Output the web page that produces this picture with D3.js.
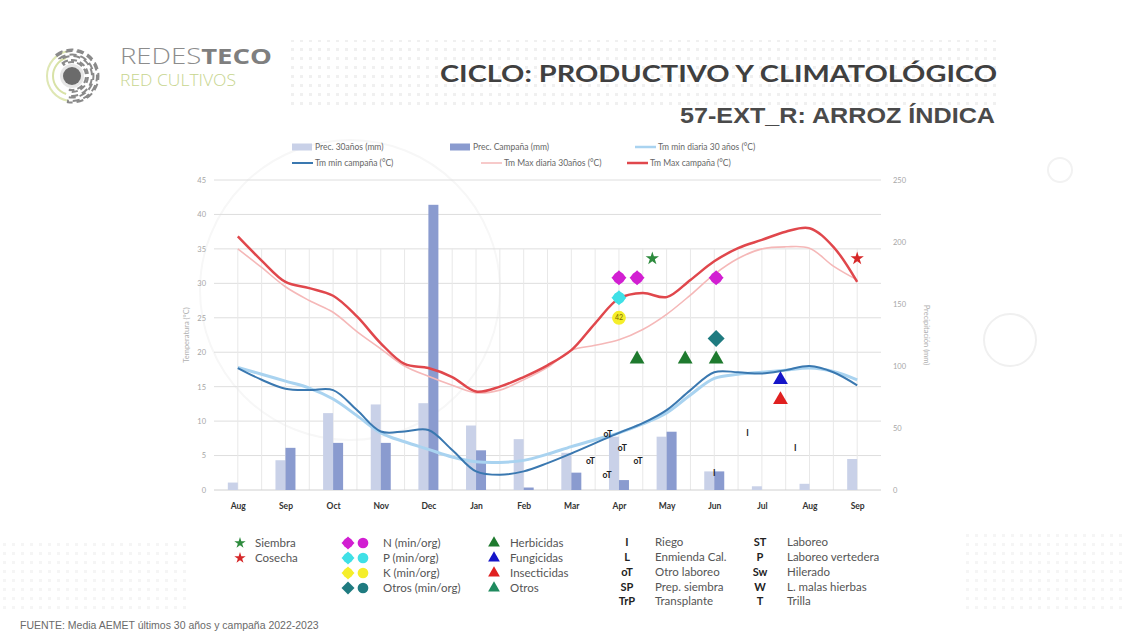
<!DOCTYPE html>
<html><head><meta charset="utf-8">
<script src="https://cdn.jsdelivr.net/npm/d3@7"></script>
<style>
html,body{margin:0;padding:0;background:#fff;}
svg{display:block;font-family:Lato,"Liberation Sans",sans-serif;}
</style></head>
<body>
<script>
// ---------- DATA ----------
const months = ["Aug","Sep","Oct","Nov","Dec","Jan","Feb","Mar","Apr","May","Jun","Jul","Aug","Sep"];
const prec30   = [6,24,62,69,70,52,41,30,43,43,15,3,5,25];
const precCamp = [0,34,38,38,230,32,2,14,8,47,15,0,0,0];
// positions (month index) of temperature readings (half-month)
const tPos = [0,0.5,1,1.5,2,2.5,3,3.5,4,4.5,5,5.5,6,6.5,7,7.5,8,8.5,9,9.5,10,10.5,11,11.5,12,12.5,13];
const tMin30   = [17.8,16.8,15.8,14.8,13.2,10.8,8.3,7.0,5.9,4.8,4.1,4.0,4.3,5.2,6.3,7.3,8.3,9.6,11.2,13.8,16.2,16.8,17.1,17.4,17.7,17.2,16.0];
const tMinCamp = [17.7,16.0,14.7,14.5,14.5,11.6,8.5,8.5,8.7,5.8,2.7,2.2,2.7,3.9,5.3,6.8,8.3,9.7,11.6,14.5,17.1,17.1,16.9,17.4,18.0,17.1,15.2];
const tMax30   = [35.0,32.3,29.5,27.5,25.8,23.0,20.5,18.0,16.5,15.2,14.1,14.5,16.0,17.8,20.3,21.0,21.8,23.3,25.5,28.3,31.3,33.6,35.0,35.3,35.1,32.5,30.5];
const tMaxCamp = [36.8,33.3,30.2,29.3,28.2,25.2,21.3,18.3,17.7,16.4,14.3,15.0,16.4,18.1,20.3,24.2,27.8,28.6,28.0,30.5,33.2,35.1,36.3,37.5,38.0,35.3,30.2];
const tempTicks = [0,5,10,15,20,25,30,35,40,45];
const precTicks = [0,50,100,150,200,250];
// events: [month index, temperature-axis value]
const siembra = [[8.7,33.6]];
const cosecha = [[13.0,33.6]];
const nutN = [[8.0,30.8],[8.38,30.8],[10.04,30.8]];
const nutP = [[8.0,27.9]];
const nutK = [[8.0,25.0]];
const nutKLabel = "42";
const nutOtros = [[10.04,22.0]];
const herbicidas = [[8.38,19.0],[9.39,19.0],[10.04,19.0]];
const fungicidas = [[11.39,16.0]];
const insecticidas = [[11.39,13.1]];
const labelEvents = [["oT",7.77,8.1],["oT",8.07,6.1],["oT",7.4,4.2],["oT",8.4,4.2],["oT",7.75,2.2],["I",10.7,8.3],["I",11.7,6.1],["I",10.0,2.5]];

const topLegend = [
  {type:"bar", color:"#c9d1e8", label:"Prec. 30años (mm)", x:292, y:147},
  {type:"bar", color:"#8a9bcf", label:"Prec. Campaña (mm)", x:450, y:147},
  {type:"line", color:"#a9d3f0", w:2.5, label:"Tm min diaria 30 años (°C)", x:635, y:147},
  {type:"line", color:"#3a78b0", w:2, label:"Tm min campaña (°C)", x:292, y:163},
  {type:"line", color:"#f5b8b8", w:1.5, label:"Tm Max diaria 30años (°C)", x:481, y:163},
  {type:"line", color:"#e0474c", w:2.5, label:"Tm Max campaña (°C)", x:627, y:163}
];
const codes1 = [["I","Riego"],["L","Enmienda Cal."],["oT","Otro laboreo"],["SP","Prep. siembra"],["TrP","Transplante"]];
const codes2 = [["ST","Laboreo"],["P","Laboreo vertedera"],["Sw","Hilerado"],["W","L. malas hierbas"],["T","Trilla"]];

// ---------- SVG ----------
const W = 1127, H = 640;
const svg = d3.select("body").append("svg").attr("width",W).attr("height",H);

// decorative background
const defs = svg.append("defs");
const pat = defs.append("pattern").attr("id","dots").attr("width",9).attr("height",9).attr("patternUnits","userSpaceOnUse");
pat.append("rect").attr("x",3).attr("y",3).attr("width",3).attr("height",3).attr("fill","#f0f0f0");
svg.append("rect").attr("x",290).attr("y",40).attr("width",710).attr("height",70).attr("fill","url(#dots)");
svg.append("rect").attr("x",0).attr("y",540).attr("width",190).attr("height",70).attr("fill","url(#dots)").attr("opacity",0.7);
svg.append("rect").attr("x",960).attr("y",530).attr("width",167).attr("height",80).attr("fill","url(#dots)").attr("opacity",0.7);
svg.append("circle").attr("cx",1010).attr("cy",340).attr("r",26).attr("fill","none").attr("stroke","#f0f0f0").attr("stroke-width",2);
svg.append("circle").attr("cx",350).attr("cy",290).attr("r",150).attr("fill","none").attr("stroke","#f7f7f7").attr("stroke-width",2);
svg.append("circle").attr("cx",1060).attr("cy",170).attr("r",12).attr("fill","none").attr("stroke","#f2f2f2").attr("stroke-width",2);

// logo
const lg = svg.append("g").attr("transform","translate(72,76)");
const arc = d3.arc();
lg.append("path").attr("d",arc({innerRadius:24,outerRadius:26,startAngle:Math.PI*1.05,endAngle:Math.PI*1.95})).attr("fill","#dfe7b4");
lg.append("path").attr("d",arc({innerRadius:18,outerRadius:20,startAngle:Math.PI*1.1,endAngle:Math.PI*1.9})).attr("fill","#d8e2a6");
[[14,16],[20,21.5],[25,26.5]].forEach((r,i)=>{
  lg.append("path").attr("d",arc({innerRadius:r[0],outerRadius:r[1],startAngle:-0.2*Math.PI,endAngle:1.05*Math.PI}))
    .attr("fill","none").attr("stroke","#8a8a8a").attr("stroke-width",2).attr("stroke-dasharray",i===0?"6 3":"7 4");
});
lg.append("circle").attr("r",12).attr("fill","#e6e6e6");
lg.append("circle").attr("r",9).attr("fill","#6b6b6b");
const lt = svg.append("text").attr("x",120).attr("y",64).attr("font-family","'Open Sans',sans-serif").attr("font-size",22).attr("fill","#8c8c8c")
  .attr("textLength",152).attr("lengthAdjust","spacingAndGlyphs");
lt.append("tspan").attr("font-weight",300).text("REDES");
lt.append("tspan").attr("font-weight",700).attr("fill","#7f7f7f").text("TECO");
svg.append("text").attr("x",120).attr("y",86).attr("font-family","'Open Sans',sans-serif").attr("font-weight",300)
  .attr("font-size",16).attr("fill","#c7d58e").attr("textLength",116).attr("lengthAdjust","spacingAndGlyphs").text("RED CULTIVOS");

// titles
svg.append("text").attr("x",440).attr("y",82).attr("font-family","Lato,sans-serif")
  .attr("font-weight",700).attr("font-size",23).attr("fill","#404040")
  .attr("textLength",557).attr("lengthAdjust","spacingAndGlyphs").text("CICLO: PRODUCTIVO Y CLIMATOLÓGICO");
svg.append("text").attr("x",680).attr("y",123).attr("font-family","'Liberation Sans',Arial,sans-serif")
  .attr("font-weight",700).attr("font-size",22).attr("fill","#4a4a4a")
  .attr("textLength",315).attr("lengthAdjust","spacingAndGlyphs").text("57-EXT_R: ARROZ ÍNDICA");

// scales
const x = d3.scaleLinear().domain([-0.5,13.5]).range([214,881]);
const yT = d3.scaleLinear().domain([0,45]).range([490,180]);
const yP = d3.scaleLinear().domain([0,250]).range([490,180]);
const bw = 10;

// grid
const grid = svg.append("g");
grid.selectAll("line.h").data(tempTicks.slice(1)).join("line")
  .attr("x1",214).attr("x2",881).attr("y1",d=>yT(d)).attr("y2",d=>yT(d))
  .attr("stroke","#dedede").attr("stroke-width",1);
grid.selectAll("line.v").data(tPos).join("line")
  .attr("x1",d=>x(d)).attr("x2",d=>x(d)).attr("y1",yT(35)).attr("y2",yT(0))
  .attr("stroke","#e8e8e8").attr("stroke-width",1);
svg.append("line").attr("x1",214).attr("x2",881).attr("y1",490).attr("y2",490).attr("stroke","#d0d0d0");

// axes
const axL = svg.append("g").attr("transform","translate(214,0)").call(d3.axisLeft(yT).tickValues(tempTicks).tickSize(0).tickPadding(8));
const axR = svg.append("g").attr("transform","translate(881,0)").call(d3.axisRight(yP).tickValues(precTicks).tickSize(0).tickPadding(12));
[axL,axR].forEach(a=>{a.select(".domain").remove(); a.selectAll("text").attr("font-size",7.5).attr("fill","#a6a6a6").attr("font-family","Lato,sans-serif");});
const axB = svg.append("g").attr("transform","translate(0,490)").call(d3.axisBottom(x).tickValues(d3.range(months.length)).tickFormat(i=>months[i]).tickSize(0).tickPadding(13));
axB.select(".domain").remove();
axB.selectAll("text").attr("font-size",8.5).attr("font-weight",700).attr("fill","#333").attr("font-family","Lato,sans-serif");
svg.append("text").attr("transform","translate(189,335) rotate(-90)").attr("text-anchor","middle").attr("font-size",7.5).attr("fill","#b0b0b0").text("Temperatura (°C)");
svg.append("text").attr("transform","translate(924,335) rotate(90)").attr("text-anchor","middle").attr("font-size",7.5).attr("fill","#b0b0b0").text("Precipitación (mm)");

// bars
svg.append("g").selectAll("rect").data(prec30).join("rect")
  .attr("x",(d,i)=>x(i)-bw).attr("width",bw).attr("y",d=>yP(d)).attr("height",d=>490-yP(d)).attr("fill","#c9d1e8");
svg.append("g").selectAll("rect").data(precCamp).join("rect")
  .attr("x",(d,i)=>x(i)).attr("width",bw).attr("y",d=>yP(d)).attr("height",d=>490-yP(d)).attr("fill","#8a9bcf");

// lines
const line = d3.line().x(d=>x(d[0])).y(d=>yT(d[1])).curve(d3.curveCatmullRom.alpha(0.5));
const series = [
  {v:tMin30, c:"#a9d3f0", w:3},
  {v:tMax30, c:"#f5b8b8", w:1.6},
  {v:tMinCamp, c:"#3a78b0", w:2},
  {v:tMaxCamp, c:"#e0474c", w:2.5}
];
series.forEach(s=>{
  svg.append("path").datum(tPos.map((p,i)=>[p,s.v[i]])).attr("d",line)
    .attr("fill","none").attr("stroke",s.c).attr("stroke-width",s.w).attr("stroke-linejoin","round");
});

// markers
const mk = svg.append("g");
const diamond = r => `M0,${-r}L${r},0L0,${r}L${-r},0Z`;
function sym(g,data,type,size,color){
  g.selectAll(null).data(data).join("path")
    .attr("transform",d=>`translate(${x(d[0])},${yT(d[1])})`)
    .attr("d",d3.symbol().type(type).size(size)()).attr("fill",color);
}
function dia(g,data,r,color){
  g.selectAll(null).data(data).join("path")
    .attr("transform",d=>`translate(${x(d[0])},${yT(d[1])})`)
    .attr("d",diamond(r)).attr("fill",color);
}
function nut(data,color,withDiamond){
  if(withDiamond) dia(mk,data,7.5,color);
  sym(mk,data,d3.symbolCircle,withDiamond?110:150,color);
}
sym(mk,siembra,d3.symbolStar,55,"#2e8b3e");
sym(mk,cosecha,d3.symbolStar,55,"#d62728");
nut(nutN,"#d21fd2",true);
nut(nutP,"#3fe0e6",true);
nut(nutK,"#f5ee2a",false);
mk.append("text").attr("x",x(nutK[0][0])).attr("y",yT(nutK[0][1])+2.5).attr("text-anchor","middle").attr("font-size",7).attr("fill","#7a6a00").text(nutKLabel);
dia(mk,nutOtros,8.5,"#1f7b80");
sym(mk,herbicidas,d3.symbolTriangle,95,"#1e7a2e");
sym(mk,fungicidas,d3.symbolTriangle,95,"#1515c8");
sym(mk,insecticidas,d3.symbolTriangle,95,"#e02020");
svg.append("g").selectAll("text").data(labelEvents).join("text")
  .attr("x",d=>x(d[1])).attr("y",d=>yT(d[2])+3).attr("text-anchor","middle")
  .attr("font-size",8.5).attr("font-weight",700).attr("fill","#222").text(d=>d[0]);

// top legend
const tl = svg.append("g");
topLegend.forEach(d=>{
  if(d.type==="bar") tl.append("rect").attr("x",d.x).attr("y",d.y-3.5).attr("width",20).attr("height",7).attr("fill",d.color);
  else tl.append("line").attr("x1",d.x).attr("x2",d.x+21).attr("y1",d.y).attr("y2",d.y).attr("stroke",d.color).attr("stroke-width",d.w);
  tl.append("text").attr("x",d.x+23).attr("y",d.y+3).attr("font-size",8.5).attr("fill","#666").text(d.label);
});

// bottom legend
const bl = svg.append("g").attr("font-size",11.5).attr("fill","#555");
const sy = [543,558,573,588];
function lsym(cx,cy,type,size,color){bl.append("path").attr("transform",`translate(${cx},${cy})`).attr("d",d3.symbol().type(type).size(size)()).attr("fill",color);}
function ldia(cx,cy,r,color){bl.append("path").attr("transform",`translate(${cx},${cy})`).attr("d",diamond(r)).attr("fill",color);}
lsym(240,sy[0],d3.symbolStar,40,"#2e8b3e"); bl.append("text").attr("x",255).attr("y",sy[0]+4).text("Siembra");
lsym(240,sy[1],d3.symbolStar,40,"#d62728"); bl.append("text").attr("x",255).attr("y",sy[1]+4).text("Cosecha");
const nutLeg = [["#d21fd2","N (min/org)"],["#3fe0e6","P (min/org)"],["#f5ee2a","K (min/org)"],["#1f7b80","Otros (min/org)"]];
nutLeg.forEach((n,i)=>{
  ldia(348,sy[i],6.5,n[0]);
  if(i!==3) lsym(348,sy[i],d3.symbolCircle,75,n[0]);
  lsym(363,sy[i],d3.symbolCircle,90,n[0]);
  bl.append("text").attr("x",383).attr("y",sy[i]+4).text(n[1]);
});
const triLeg = [["#1e7a2e","Herbicidas"],["#1515c8","Fungicidas"],["#e02020","Insecticidas"],["#1f8a5e","Otros"]];
triLeg.forEach((t,i)=>{
  lsym(494,sy[i],d3.symbolTriangle,60,t[0]);
  bl.append("text").attr("x",510).attr("y",sy[i]+4).text(t[1]);
});
const cy2 = [542,557,572,587,601];
codes1.forEach((c,i)=>{
  bl.append("text").attr("x",627).attr("y",cy2[i]+4).attr("text-anchor","middle").attr("font-weight",700).attr("font-size",11).attr("fill","#222").text(c[0]);
  bl.append("text").attr("x",655).attr("y",cy2[i]+4).text(c[1]);
});
codes2.forEach((c,i)=>{
  bl.append("text").attr("x",760).attr("y",cy2[i]+4).attr("text-anchor","middle").attr("font-weight",700).attr("font-size",11).attr("fill","#222").text(c[0]);
  bl.append("text").attr("x",787).attr("y",cy2[i]+4).text(c[1]);
});

// footer
svg.append("text").attr("x",20).attr("y",629).attr("font-family","'Liberation Sans',Arial,sans-serif").attr("font-size",10.5).attr("fill","#6a6a6a")
  .text("FUENTE: Media  AEMET últimos  30 años y campaña 2022-2023");
</script>
</body></html>
